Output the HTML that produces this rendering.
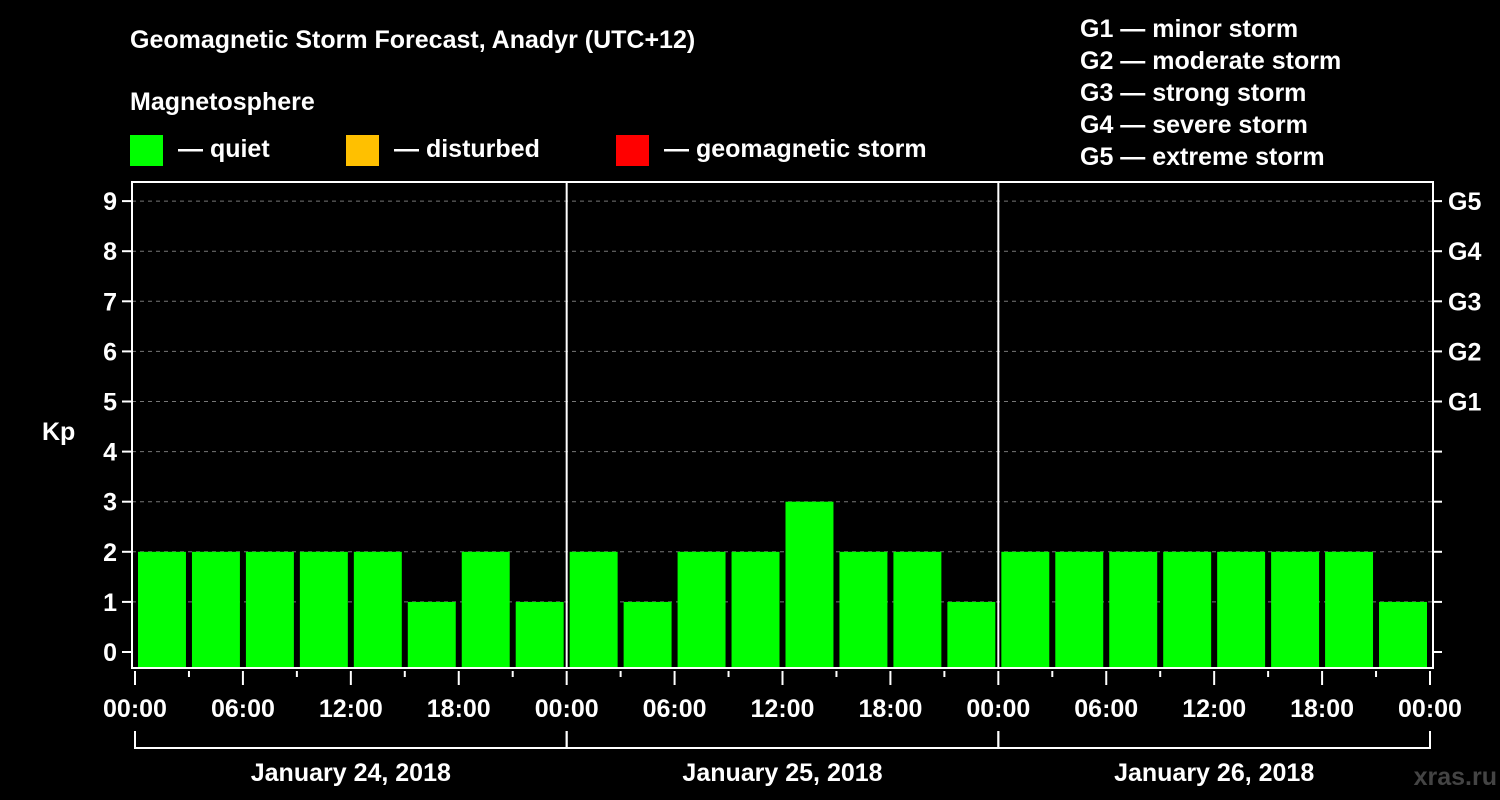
<!DOCTYPE html>
<html><head><meta charset="utf-8"><style>
html,body{margin:0;padding:0;background:#000;width:1500px;height:800px;overflow:hidden}
svg{display:block;font-family:"Liberation Sans",Arial,sans-serif;font-weight:bold}
</style></head><body>
<svg id="chart" width="1500" height="800">
<rect width="1500" height="800" fill="#000"/>
<text x="130" y="48" fill="#fff" font-size="25">Geomagnetic Storm Forecast, Anadyr (UTC+12)</text>
<text x="130" y="110" fill="#fff" font-size="25">Magnetosphere</text>
<g><rect x="130" y="135" width="33" height="31" fill="#00ff00"/><text x="178" y="157" fill="#fff" font-size="25">— quiet</text></g>
<g><rect x="346" y="135" width="33" height="31" fill="#ffc000"/><text x="394" y="157" fill="#fff" font-size="25">— disturbed</text></g>
<g><rect x="616" y="135" width="33" height="31" fill="#ff0000"/><text x="664" y="157" fill="#fff" font-size="25">— geomagnetic storm</text></g>
<g fill="#fff" font-size="25">
<text x="1080" y="37">G1 — minor storm</text><text x="1080" y="69">G2 — moderate storm</text><text x="1080" y="101">G3 — strong storm</text><text x="1080" y="133">G4 — severe storm</text><text x="1080" y="165">G5 — extreme storm</text>
</g>
<text x="42" y="440" fill="#fff" font-size="25">Kp</text>
<text x="1497" y="785" fill="#444" font-size="25" text-anchor="end">xras.ru</text>
<g id="plot"></g>
</svg>
<script>
const kpValues=[2,2,2,2,2,1,2,1, 2,1,2,2,3,2,2,1, 2,2,2,2,2,2,2,1];
const yTicks=[0,1,2,3,4,5,6,7,8,9];
const gLabels=["G1","G2","G3","G4","G5"];
const xTickLabels=["00:00","06:00","12:00","18:00","00:00","06:00","12:00","18:00","00:00","06:00","12:00","18:00","00:00"];
const dayLabels=["January 24, 2018","January 25, 2018","January 26, 2018"];
const X0=135,X1=1430,TOP=182,BOT=668;
const slot=(X1-X0)/kpValues.length;
const x=i=>X0+i*slot;
const y=v=>652-v*50.1;
const NS="http://www.w3.org/2000/svg";
const g=document.getElementById('plot');
function mk(t,a,txt){const e=document.createElementNS(NS,t);for(const k in a)e.setAttribute(k,a[k]);if(txt!==undefined)e.textContent=txt;g.appendChild(e);return e;}
function col(v){return v>=5?'#ff0000':v>=4?'#ffc000':'#00ff00';}
yTicks.forEach(v=>{
  if(v>0){const l=mk('line',{x1:132,x2:1433,y1:y(v),y2:y(v),stroke:'#777','stroke-dasharray':'4,4','stroke-width':1});
  }
  const t=mk('line',{x1:122,x2:132,y1:y(v),y2:y(v),stroke:'#fff','stroke-width':2});
  
  const rt=mk('line',{x1:1433,x2:1442,y1:y(v),y2:y(v),stroke:'#fff','stroke-width':2});
  
  const tl=mk('text',{x:117,y:y(v)+9,fill:'#fff','font-size':25,'text-anchor':'end'},String(v));
  
});
gLabels.forEach((s,i)=>{
  const t=mk('text',{x:1448,y:y(5+i)+9,fill:'#fff','font-size':25},s);
  
});
kpValues.forEach((v,i)=>{
  const b=mk('rect',{x:x(i)+3,y:y(v),width:slot-6,height:BOT-1-y(v),fill:col(v)});
  
});
[1,2].forEach(d=>{const l=mk('line',{x1:x(d*8),x2:x(d*8),y1:TOP,y2:BOT,stroke:'#fff','stroke-width':2});
});
const fr=mk('path',{d:`M132 ${TOP} H1433 V${BOT} H132 Z`,fill:'none',stroke:'#fff','stroke-width':2});

for(let i=0;i<=kpValues.length;i++){
  const major=i%2===0;
  const t=mk('line',{x1:x(i),x2:x(i),y1:BOT+3,y2:BOT+(major?17:9),stroke:'#fff','stroke-width':2});
  
}
xTickLabels.forEach((s,i)=>{
  const t=mk('text',{x:x(i*2),y:717,fill:'#fff','font-size':25,'text-anchor':'middle'},s);
  
});
dayLabels.forEach((s,d)=>{
  const b=mk('path',{d:`M${x(d*8)} 731 V748 H${x(d*8+8)} V731`,fill:'none',stroke:'#fff','stroke-width':2});
  
  const t=mk('text',{x:(x(d*8)+x(d*8+8))/2,y:781,fill:'#fff','font-size':25,'text-anchor':'middle'},s);
  
});
</script>
</body></html>
